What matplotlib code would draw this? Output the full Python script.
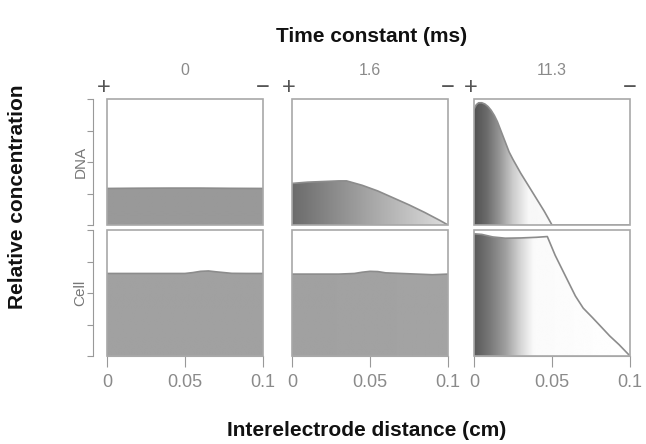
import numpy as np
import matplotlib
matplotlib.use("Agg")
import matplotlib.pyplot as plt
from matplotlib.patches import Polygon, Rectangle

plt.rcParams['font.family'] = ['Liberation Sans', 'DejaVu Sans']

# time constants (column titles) and species (row labels)
time_constants = ["0", "1.6", "11.3"]
species = ["DNA", "Cell"]
xticks = [0, 0.05, 0.1]
xtick_labels = ["0", "0.05", "0.1"]

# DNA profiles
dna_x_0 = [0, 0.02, 0.04, 0.06, 0.08, 0.1]
dna_y_0 = [0.29, 0.292, 0.293, 0.293, 0.291, 0.29]

dna_x_16 = [0, 0.01, 0.02, 0.03, 0.035, 0.045, 0.055, 0.065, 0.075, 0.085, 0.095, 0.1]
dna_y_16 = [0.33, 0.34, 0.345, 0.35, 0.35, 0.315, 0.27, 0.215, 0.16, 0.10, 0.035, 0.0]

dna_x_113 = [0, 0.0015, 0.003, 0.005, 0.007, 0.009, 0.011, 0.013, 0.015, 0.0175,
             0.02, 0.0225, 0.025, 0.03, 0.035, 0.04, 0.045, 0.05, 0.1]
dna_y_113 = [0.92, 0.955, 0.97, 0.97, 0.96, 0.94, 0.91, 0.87, 0.82, 0.74,
             0.66, 0.58, 0.52, 0.41, 0.31, 0.21, 0.11, 0.0, 0.0]

# Cell profiles
cell_x_0 = [0, 0.01, 0.02, 0.03, 0.04, 0.05, 0.055, 0.06, 0.065, 0.07, 0.08, 0.09, 0.1]
cell_y_0 = [0.655, 0.655, 0.655, 0.655, 0.655, 0.655, 0.662, 0.672, 0.675, 0.668, 0.656, 0.655, 0.655]

cell_x_16 = [0, 0.01, 0.02, 0.03, 0.04, 0.045, 0.05, 0.055, 0.06, 0.07, 0.08, 0.09, 0.1]
cell_y_16 = [0.65, 0.65, 0.65, 0.65, 0.655, 0.665, 0.672, 0.67, 0.66, 0.655, 0.65, 0.645, 0.65]

cell_x_113 = [0, 0.005, 0.012, 0.02, 0.03, 0.04, 0.047, 0.052, 0.057, 0.065,
              0.07, 0.076, 0.082, 0.087, 0.093, 0.1]
cell_y_113 = [0.97, 0.965, 0.945, 0.935, 0.937, 0.942, 0.948, 0.80, 0.675, 0.476,
              0.38, 0.304, 0.225, 0.159, 0.09, 0.0]

profiles = [
    [(dna_x_0, dna_y_0), (dna_x_16, dna_y_16), (dna_x_113, dna_y_113)],
    [(cell_x_0, cell_y_0), (cell_x_16, cell_y_16), (cell_x_113, cell_y_113)],
]

# grey shading along x for each panel: (x stops, grey level 0=black 1=white)
shading = [
    [([0, 0.1], [0.6, 0.6]),
     ([0, 0.05, 0.1], [0.42, 0.65, 0.87]),
     ([0, 0.008, 0.016, 0.025, 0.035, 0.1], [0.32, 0.42, 0.58, 0.8, 0.97, 1.0])],
    [([0, 0.1], [0.63, 0.63]),
     ([0, 0.1], [0.63, 0.64]),
     ([0, 0.01, 0.02, 0.03, 0.038, 0.1], [0.35, 0.47, 0.62, 0.84, 0.98, 1.0])],
]

W, H = 646, 444
fig = plt.figure(figsize=(W / 100, H / 100), dpi=100)

col_left = [107, 292, 474]
col_w = 156
row_top = [99, 230]
row_h = 126

frame_c = "#a8a8a8"
line_c = "#8c8c8c"
text_grey = "#8a8a8a"

for r in range(2):
    for c in range(3):
        ax = fig.add_axes([col_left[c] / W, 1 - (row_top[r] + row_h) / H,
                           col_w / W, row_h / H])
        ax.set_xlim(0, 0.1)
        ax.set_ylim(0, 1)
        x, y = profiles[r][c]
        sx, sv = shading[r][c]
        gx = np.linspace(0, 0.1, 300)
        grad = np.interp(gx, sx, sv)[None, :]
        im = ax.imshow(grad, cmap="gray", vmin=0, vmax=1, extent=(0, 0.1, 0, 1),
                       aspect="auto", interpolation="bilinear", zorder=1)
        verts = list(zip(x, y)) + [(x[-1], 0), (x[0], 0)]
        poly = Polygon(verts, closed=True, fill=False, edgecolor="none")
        ax.add_patch(poly)
        im.set_clip_path(poly)
        ax.plot(x, y, color=line_c, lw=1.2, zorder=3)

        ax.add_patch(Rectangle((0, 0), 1, 1, transform=ax.transAxes, fill=False,
                               edgecolor=frame_c, lw=1.2, zorder=4, clip_on=False))
        for s in ["top", "right"]:
            ax.spines[s].set_visible(False)

        if c == 0:
            ax.spines["left"].set_position(("outward", 10))
            ax.spines["left"].set_color("#999999")
            ax.set_yticks([0, 0.25, 0.5, 0.75, 1])
            ax.tick_params(axis="y", direction="out", length=4, color="#999999",
                           labelleft=False)
            ax.text(-0.17, 0.5, species[r], rotation=90, ha="center", va="center",
                    transform=ax.transAxes, color="#777777", fontsize=11)
        else:
            ax.spines["left"].set_visible(False)
            ax.set_yticks([])

        if r == 1:
            ax.spines["bottom"].set_color(frame_c)
            ax.set_xticks(xticks)
            ax.set_xticklabels(xtick_labels)
            ax.tick_params(axis="x", direction="out", length=8, color="#999999",
                           labelcolor=text_grey, labelsize=13, pad=5)
        else:
            ax.spines["bottom"].set_visible(False)
            ax.set_xticks([])
            ax.text(0.5, 1.23, time_constants[c], transform=ax.transAxes,
                    ha="center", va="center", color=text_grey, fontsize=11.5)
            ax.text(-0.02, 1.09, "+", transform=ax.transAxes, ha="center",
                    va="center", color="#555555", fontsize=17)
            ax.text(1.0, 1.09, "\u2212", transform=ax.transAxes, ha="center",
                    va="center", color="#555555", fontsize=17)

fig.text(372 / W, 1 - 36 / H, "Time constant (ms)", ha="center", va="center",
         fontsize=15, fontweight="bold", color="#111111")
fig.text(367 / W, 1 - 430 / H, "Interelectrode distance (cm)", ha="center",
         va="center", fontsize=15, fontweight="bold", color="#111111")
fig.text(18 / W, 1 - 197 / H, "Relative concentration", rotation=90, ha="center",
         va="center", fontsize=15, fontweight="bold", color="#111111")

fig.savefig("out.png", dpi=100)
